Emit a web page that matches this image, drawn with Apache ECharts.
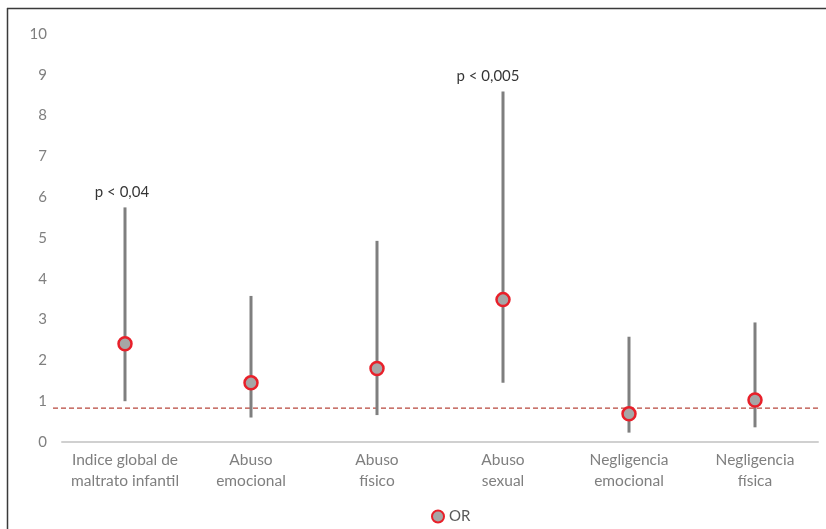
<!DOCTYPE html>
<html>
<head>
<meta charset="utf-8">
<script src="https://cdn.jsdelivr.net/npm/echarts@6/dist/echarts.min.js"></script>
<style>
html,body{margin:0;padding:0;background:#fff;}
#chart{width:826px;height:529px;}
</style>
</head>
<body>
<div id="chart"></div>
<script>
const categories = ['Indice global de\nmaltrato infantil', 'Abuso\nemocional', 'Abuso\nfísico', 'Abuso\nsexual', 'Negligencia\nemocional', 'Negligencia\nfísica'];
const orValues = [2.41, 1.45, 1.80, 3.49, 0.69, 1.03];
const ciLow = [1.00, 0.60, 0.66, 1.45, 0.23, 0.36];
const ciHigh = [5.75, 3.58, 4.93, 8.59, 2.58, 2.93];
const pLabels = ['p < 0,04', '', '', 'p < 0,005', '', ''];
const refLine = 0.83;
const yTicks = [0, 10, 1];

const chart = echarts.init(document.getElementById('chart'));
const font = 'Lato, "Open Sans", sans-serif';
const labelOffsets = [[-3, 0], null, null, [-15, 0], null, null];

chart.setOption({
  animation: false,
  textStyle: { fontFamily: font },
  grid: { left: 62, right: 8, top: 34, bottom: 87 },
  legend: {
    bottom: 0,
    left: 426,
    data: [{ name: 'OR', icon: 'circle' }],
    itemWidth: 12, itemHeight: 12,
    itemGap: 4,
    textStyle: { color: '#595959', fontSize: 15, fontFamily: font }
  },
  xAxis: {
    type: 'category',
    data: categories,
    axisLine: { lineStyle: { color: '#d0d0d0', width: 2 } },
    axisTick: { show: false },
    axisLabel: { color: '#7f7f7f', fontSize: 15.5, lineHeight: 21, margin: 7, fontFamily: font, interval: 0 },
    splitLine: { show: false }
  },
  yAxis: {
    type: 'value',
    min: yTicks[0], max: yTicks[1], interval: yTicks[2],
    axisLine: { show: false },
    axisTick: { show: false },
    splitLine: { show: false },
    axisLabel: { color: '#7f7f7f', fontSize: 15, margin: 15, fontFamily: font }
  },
  series: [
    {
      type: 'custom',
      name: 'CI',
      data: categories.map((c, i) => [i, ciLow[i], ciHigh[i]]),
      renderItem: function (params, api) {
        const lo = api.coord([api.value(0), api.value(1)]);
        const hi = api.coord([api.value(0), api.value(2)]);
        return {
          type: 'line',
          shape: { x1: lo[0], y1: lo[1], x2: hi[0], y2: hi[1] },
          style: { stroke: '#7f7f7f', lineWidth: 3 }
        };
      },
      z: 2
    },
    {
      type: 'scatter',
      name: 'OR',
      data: orValues,
      symbol: 'circle',
      symbolSize: 13,
      itemStyle: { color: '#a6a6a6', borderColor: '#e8202a', borderWidth: 2.5, opacity: 1 },
      z: 5
    },
    {
      type: 'scatter',
      name: 'p',
      data: ciHigh.map((v, i) => pLabels[i] ? { value: [i, v], label: { offset: labelOffsets[i] } } : null).filter(Boolean),
      symbolSize: 0,
      label: {
        show: true,
        position: 'top',
        distance: 8,
        color: '#000',
        fontSize: 15,
        fontFamily: font,
        formatter: p => pLabels[p.data.value[0]]
      },
      z: 6
    }
  ]
});

const yRef = chart.convertToPixel({ yAxisIndex: 0 }, refLine);
chart.setOption({
  graphic: [
    { type: 'line', shape: { x1: 7, y1: 8.5, x2: 826, y2: 8.5 }, style: { stroke: '#3a3a3a', lineWidth: 1.5 } },
    { type: 'line', shape: { x1: 7.5, y1: 8, x2: 7.5, y2: 529 }, style: { stroke: '#3a3a3a', lineWidth: 1.5 } },
    { type: 'line', z: 1, shape: { x1: 53, y1: yRef, x2: 818, y2: yRef }, style: { stroke: '#b8473d', lineWidth: 1.4, lineDash: [5, 3] } }
  ]
});
</script>
</body>
</html>
